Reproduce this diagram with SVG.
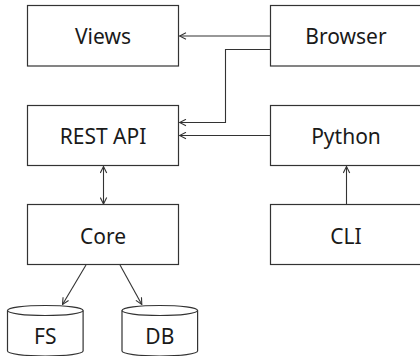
<svg xmlns="http://www.w3.org/2000/svg" width="420" height="356" viewBox="0 0 420 356">
<style>
.box{fill:#fff;stroke:#333;stroke-width:1.2}
.lbl{font-family:"Noto Sans","Open Sans",sans-serif;font-size:21px;fill:#1a1a1a;text-anchor:middle}
.edge{fill:none;stroke:#333;stroke-width:1.1}
</style>
<defs>
<marker id="arr" viewBox="0 0 8 8" refX="7.5" refY="4" markerWidth="8" markerHeight="8" markerUnits="userSpaceOnUse" orient="auto-start-reverse">
<path d="M1,0.8 L7.5,4 L1,7.2" fill="none" stroke="#333" stroke-width="1.1"/>
</marker>
</defs>
<rect width="420" height="356" fill="#fff"/>
<g id="views"><rect class="box" x="27.5" y="5.5" width="151" height="60.5"/><text class="lbl" x="103" y="44">Views</text></g>
<g id="browser"><rect class="box" x="270.5" y="5.5" width="151" height="60.5"/><text class="lbl" x="346" y="44">Browser</text></g>
<g id="restapi"><rect class="box" x="27.5" y="105.5" width="151" height="60"/><text class="lbl" x="103" y="144">REST API</text></g>
<g id="python"><rect class="box" x="270.5" y="105.5" width="151" height="60"/><text class="lbl" x="346" y="144">Python</text></g>
<g id="core"><rect class="box" x="27.5" y="204.5" width="151" height="60"/><text class="lbl" x="103" y="243.5">Core</text></g>
<g id="cli"><rect class="box" x="270.5" y="204.5" width="151" height="60"/><text class="lbl" x="346" y="243.5">CLI</text></g>
<g id="fs"><path class="box" d="M7.5,310.5 V351 A37.8,5 0 0 0 83.1,351 V310.5"/><ellipse class="box" cx="45.3" cy="310.5" rx="37.8" ry="5"/><text class="lbl" x="45.3" y="344">FS</text></g>
<g id="db"><path class="box" d="M122,310.5 V351 A37.8,5 0 0 0 197.6,351 V310.5"/><ellipse class="box" cx="159.8" cy="310.5" rx="37.8" ry="5"/><text class="lbl" x="159.8" y="344">DB</text></g>
<g id="connectors">
<path class="edge" d="M270,36 H179.5" marker-end="url(#arr)"/>
<path class="edge" d="M270,49.5 H225.5 V122.5 H179.5" marker-end="url(#arr)"/>
<path class="edge" d="M270,135.5 H179.5" marker-end="url(#arr)"/>
<path class="edge" d="M103.5,166.5 V204" marker-start="url(#arr)" marker-end="url(#arr)"/>
<path class="edge" d="M346.5,204 V166.5" marker-end="url(#arr)"/>
<path class="edge" d="M86,265 L62.5,304.5" marker-end="url(#arr)"/>
<path class="edge" d="M120,265 L141.8,304.5" marker-end="url(#arr)"/>
</g>
</svg>
